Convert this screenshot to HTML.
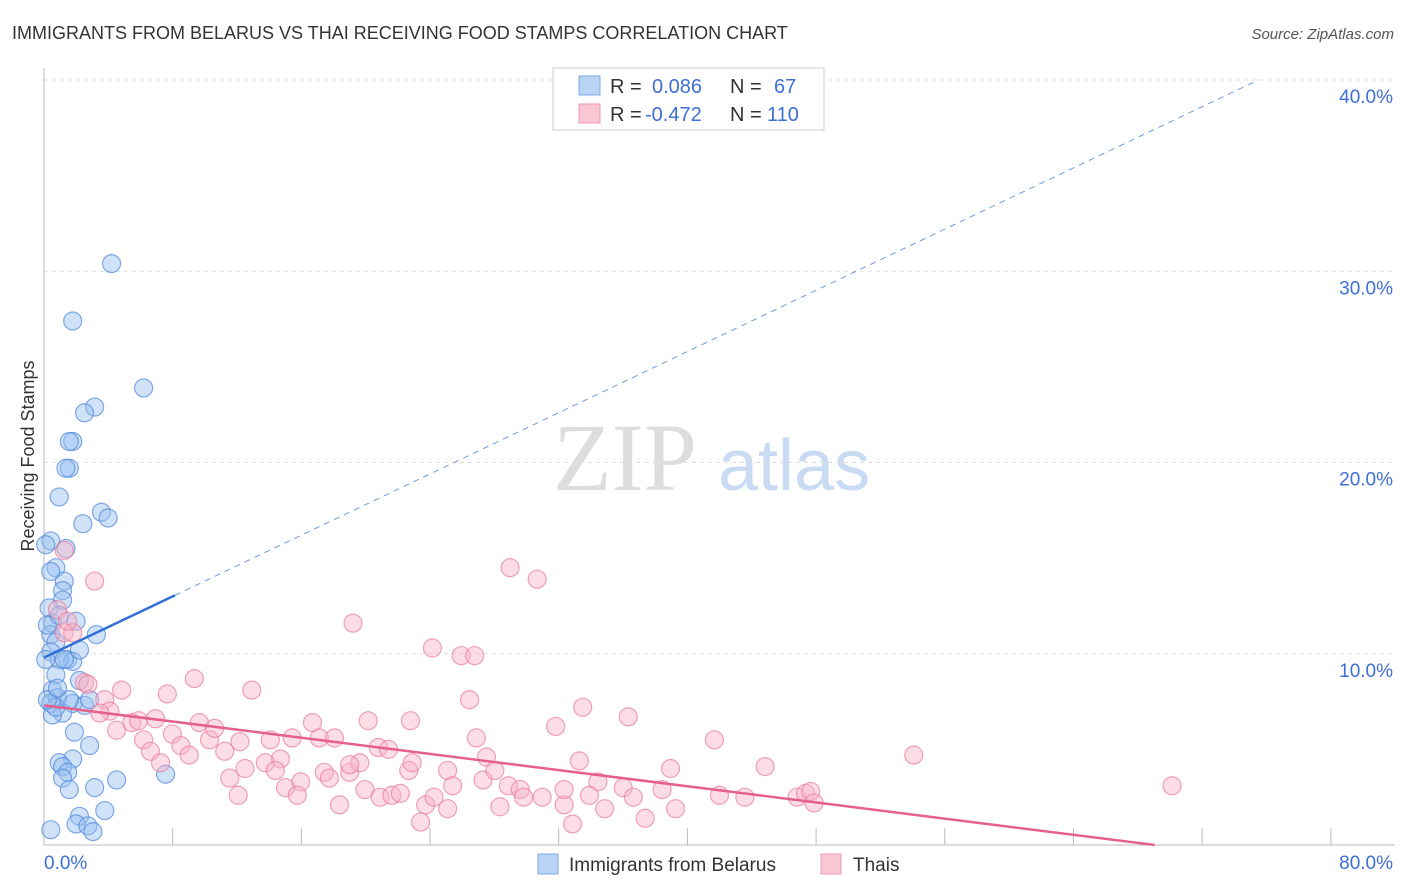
<!DOCTYPE html>
<html><head><meta charset="utf-8"><style>
body{margin:0;background:#fff;font-family:"Liberation Sans",sans-serif;}
svg{display:block}
</style></head><body>
<svg id="chart" width="1406" height="892">
<text x="12" y="39" font-size="18" fill="#333">IMMIGRANTS FROM BELARUS VS THAI RECEIVING FOOD STAMPS CORRELATION CHART</text>
<text x="1394" y="39" font-size="15" fill="#555" font-style="italic" text-anchor="end">Source: ZipAtlas.com</text>
<text transform="translate(34,456) rotate(-90)" font-size="18" fill="#333" text-anchor="middle">Receiving Food Stamps</text>
<g>
<text x="553" y="490" font-size="96" font-family="Liberation Serif,serif" fill="#ddd">ZIP</text>
<text x="718" y="490" font-size="72" fill="#c9daf3">atlas</text>
</g>
<g id="grid"></g><g id="axes"></g><g id="pts"></g><g id="trends"></g>
<g>
<rect x="553" y="68" width="271" height="62" fill="#fff" stroke="#ccc"/>
<rect x="579" y="76" width="21" height="19" fill="#b9d3f5" stroke="#7fa8e6"/>
<rect x="579" y="104" width="21" height="19" fill="#f9c6d3" stroke="#ee99b0"/>
<text x="610" y="93" font-size="20" fill="#333">R =</text><text x="652" y="93" font-size="20" fill="#3d6fd6">0.086</text>
<text x="730" y="93" font-size="20" fill="#333">N =</text><text x="774" y="93" font-size="20" fill="#3d6fd6">67</text>
<text x="610" y="121" font-size="20" fill="#333">R =</text><text x="645" y="121" font-size="20" fill="#3d6fd6">-0.472</text>
<text x="730" y="121" font-size="20" fill="#333">N =</text><text x="767" y="121" font-size="20" fill="#3d6fd6">110</text>
</g>
<g>
<rect x="538" y="854" width="20" height="20" fill="#b9d3f5" stroke="#7fa8e6"/>
<text x="569" y="871" font-size="19" fill="#333">Immigrants from Belarus</text>
<rect x="821" y="854" width="20" height="20" fill="#f9c6d3" stroke="#ee99b0"/>
<text x="853" y="871" font-size="19" fill="#333">Thais</text>
</g>
</svg>
<script>
const yTicks=[10,20,30,40];
const xTickVals=[7.62,15.24,22.86,30.48,38.1,45.72,53.34,60.96,68.58,76.2];
const xLabels=["0.0%","80.0%"];
const blueX=[4.0,1.7,5.9,3.0,2.4,1.7,1.5,1.5,1.3,0.9,3.4,3.8,2.3,0.4,1.3,0.7,1.2,1.1,1.1,0.3,1.9,0.5,0.4,3.1,0.7,0.4,1.4,1.7,0.9,0.7,2.1,0.5,0.8,0.4,1.7,1.1,0.5,1.8,2.7,1.7,0.9,1.1,1.4,1.1,4.3,7.2,1.5,3.0,3.6,2.1,1.9,2.6,2.9,0.4,0.7,0.2,0.1,0.2,0.4,0.1,1.2,2.4,0.8,1.5,2.1,0.9,2.7];
const blueY=[30.4,27.4,23.9,22.9,22.6,21.1,21.1,19.7,19.7,18.2,17.4,17.1,16.8,15.9,15.5,14.5,13.8,13.3,12.8,12.4,11.7,11.6,11.0,11.0,10.6,10.1,9.7,9.6,9.7,8.9,8.6,8.1,7.7,7.4,7.4,6.9,6.8,5.9,5.2,4.5,4.3,4.1,3.8,3.5,3.4,3.7,2.9,3.0,1.8,1.5,1.1,1.0,0.7,0.8,7.2,7.6,9.7,11.5,14.3,15.7,9.7,7.3,8.2,7.6,10.2,12.0,7.6];
const pinkX=[3.0,1.2,27.6,29.2,18.3,23.0,24.7,25.5,0.8,1.2,1.7,1.4,2.4,2.6,4.6,8.9,7.3,12.3,3.6,3.9,3.3,5.2,5.6,6.6,7.6,9.2,4.3,5.9,6.3,8.1,8.6,6.9,9.8,10.1,10.7,11.6,13.4,14.7,15.9,16.3,17.2,14.0,13.1,11.9,11.0,11.5,13.7,15.2,14.3,15.0,16.6,16.9,18.1,17.5,19.2,18.7,19.8,20.4,19.0,19.9,20.6,21.1,21.6,21.8,22.6,22.3,23.9,24.2,23.1,23.9,25.6,26.2,26.0,27.0,27.5,28.2,28.4,29.5,30.3,30.8,31.3,31.9,31.7,32.8,33.2,34.6,34.3,34.9,35.6,36.6,37.1,37.4,39.7,42.7,41.5,44.6,45.1,45.4,45.6,51.5,66.8,30.8,32.3,40.0,25.2,21.7,26.7,18.1];
const pinkY=[13.8,15.4,14.5,13.9,11.6,10.3,9.9,9.9,12.3,11.1,11.1,11.7,8.5,8.4,8.1,8.7,7.9,8.1,7.6,7.0,6.9,6.4,6.5,6.6,5.8,6.4,6.0,5.5,4.9,5.2,4.7,4.3,5.5,6.1,4.9,5.4,5.5,5.6,6.4,5.6,5.6,4.5,4.3,4.0,3.5,2.6,3.9,3.3,3.0,2.6,3.8,3.5,3.8,2.1,6.5,4.3,5.1,5.0,2.9,2.5,2.6,2.7,3.9,4.3,2.1,1.2,3.9,3.1,2.5,1.9,5.6,4.6,3.4,2.0,3.1,2.9,2.5,2.5,6.2,2.1,1.1,7.2,4.4,3.3,1.9,6.7,3.0,2.5,1.4,2.9,4.0,1.9,5.5,4.1,2.5,2.5,2.7,2.8,2.2,4.7,3.1,2.9,2.6,2.6,7.6,6.5,3.9,4.2];
const blueTrend=[9.8,0.42];   // intercept, slope
const pinkTrend=[7.3,-0.111];
const X0=44,X1=1395,Y0=845,Y40=80;
const xs=v=>X0+v*(X1-X0)/80;
const ys=v=>Y0-v*(Y0-Y40)/40;
const NS="http://www.w3.org/2000/svg";
function mk(tag,attrs,parent){const e=document.createElementNS(NS,tag);for(const k in attrs)e.setAttribute(k,attrs[k]);document.getElementById(parent).appendChild(e);return e;}
yTicks.forEach(t=>{
 const l=mk('line',{x1:44,x2:1395,y1:ys(t),y2:ys(t),stroke:'#ddd','stroke-dasharray':'4,4'},'grid');
 
 
 const tx=mk('text',{x:1393,y:ys(t)+23,'font-size':19,fill:'#3d6fd6','text-anchor':'end'},'grid');
 tx.textContent=t.toFixed(1)+'%';
 
 
});
const ax=mk('path',{d:`M44 68V${Y0}H1395`,stroke:'#bbb',fill:'none'},'axes');


xTickVals.forEach(t=>{
 const l=mk('line',{x1:xs(t),x2:xs(t),y1:828,y2:845,stroke:'#bbb'},'axes');
 
 
});
const xl0=mk('text',{x:44,y:869,'font-size':19,fill:'#3d6fd6'},'axes');xl0.textContent=xLabels[0];


const xl1=mk('text',{x:1393,y:869,'font-size':19,fill:'#3d6fd6','text-anchor':'end'},'axes');xl1.textContent=xLabels[1];


blueX.forEach((x,i)=>{
 const c=mk('circle',{cx:xs(x),cy:ys(blueY[i]),r:9,fill:'rgba(150,190,240,0.45)',stroke:'#4f86dc','stroke-opacity':0.7,'stroke-width':1.2},'pts');
 
 
});
pinkX.forEach((x,i)=>{
 const c=mk('circle',{cx:xs(x),cy:ys(pinkY[i]),r:9,fill:'rgba(248,180,200,0.45)',stroke:'#e87c9c','stroke-opacity':0.7,'stroke-width':1.2},'pts');
 
 
});
const bEnd=7.76,bDash=(40-blueTrend[0])/blueTrend[1];
const b1=mk('line',{x1:xs(0),y1:ys(blueTrend[0]),x2:xs(bEnd),y2:ys(blueTrend[0]+blueTrend[1]*bEnd),stroke:'#2f6fd6','stroke-width':2.5},'trends');


const b2=mk('line',{x1:xs(bEnd),y1:ys(blueTrend[0]+blueTrend[1]*bEnd),x2:xs(bDash),y2:ys(40),stroke:'#6f9be0','stroke-width':1,'stroke-dasharray':'6,5'},'trends');


const pEnd=-pinkTrend[0]/pinkTrend[1];
const p1=mk('line',{x1:xs(0),y1:ys(pinkTrend[0]),x2:xs(pEnd),y2:ys(0),stroke:'#e5608a','stroke-width':2.5},'trends');


</script>
</body></html>
